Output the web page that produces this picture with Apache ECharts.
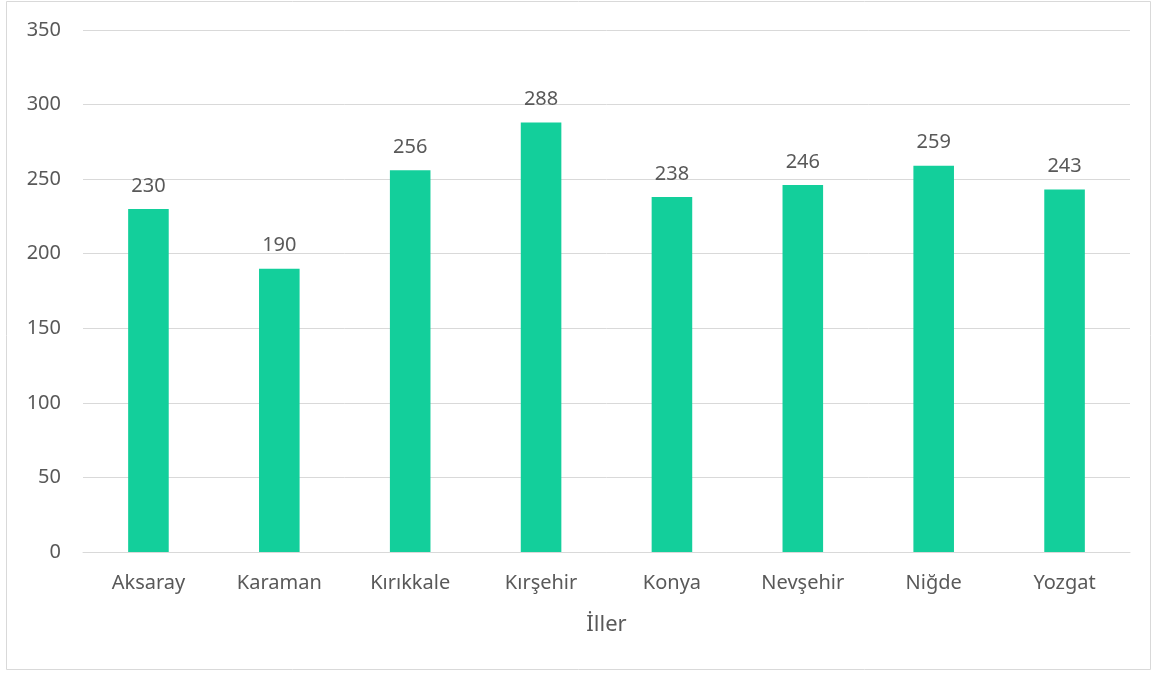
<!DOCTYPE html>
<html><head><meta charset="utf-8">
<script src="https://cdn.jsdelivr.net/npm/echarts@6/dist/echarts.min.js"></script>
<style>html,body{margin:0;padding:0;background:#fff}#c{width:1155px;height:675px}</style>
</head><body><div id="c"></div>
<script>
const categories = ["Aksaray","Karaman","Kırıkkale","Kırşehir","Konya","Nevşehir","Niğde","Yozgat"];
const values = [230,190,256,288,238,246,259,243];
const axisTitle = "İller";
const font = "'Noto Sans', 'Open Sans', sans-serif";
const txt = "#595959";
const chart = echarts.init(document.getElementById('c'), null, {renderer:'canvas'});
chart.setOption({
  animation:false,
  backgroundColor:'#fff',
  graphic:[{type:'rect',shape:{x:6.5,y:1.5,width:1144,height:668},style:{fill:'none',stroke:'#d9d9d9',lineWidth:1},silent:true}],
  grid:{left:83,right:25,top:30,bottom:123,containLabel:false},
  xAxis:{type:'category',data:categories,
    axisLine:{lineStyle:{color:'#d9d9d9',width:1}},axisTick:{show:false},
    axisLabel:{color:txt,fontSize:20,fontFamily:font,margin:21},
    name:axisTitle,nameLocation:'middle',nameGap:62,
    nameTextStyle:{color:txt,fontSize:22,fontFamily:font}},
  yAxis:{type:'value',min:0,max:350,interval:50,
    axisLine:{show:false},axisTick:{show:false},
    splitLine:{lineStyle:{color:'#d9d9d9',width:1}},
    axisLabel:{color:txt,fontSize:20,fontFamily:font,margin:22}},
  series:[{type:'bar',data:values,barWidth:'31%',
    itemStyle:{color:'#13CF9B'},
    label:{show:true,position:'top',distance:13,color:txt,fontSize:20,fontFamily:font}}]
});
</script></body></html>
